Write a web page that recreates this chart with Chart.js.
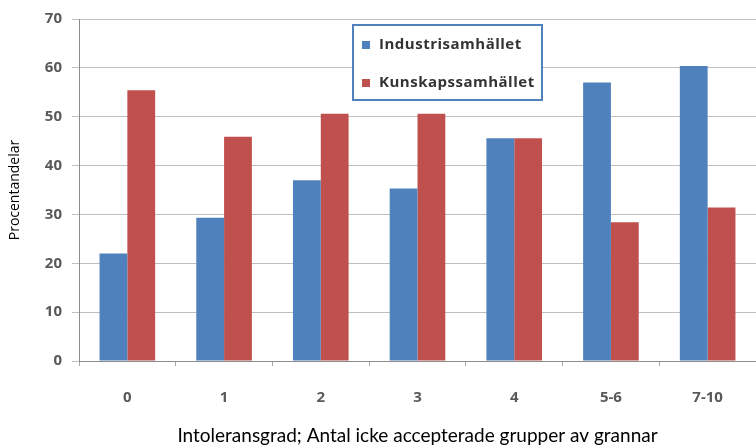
<!DOCTYPE html>
<html>
<head>
<meta charset="utf-8">
<script src="https://cdn.jsdelivr.net/npm/chart.js@4"></script>
<style>
  html, body { margin: 0; padding: 0; background: #ffffff; }
  #wrap { width: 756px; height: 445px; position: relative; }
</style>
</head>
<body>
<div id="wrap"><canvas id="c" width="756" height="445"></canvas></div>
<script>
const categories = ["0", "1", "2", "3", "4", "5-6", "7-10"];
const industri = [22, 29.3, 37, 35.3, 45.6, 57, 60.4];
const kunskap = [55.4, 45.9, 50.6, 50.6, 45.6, 28.4, 31.4];
const seriesNames = ["Industrisamhället", "Kunskapssamhället"];
const yTicks = [0, 10, 20, 30, 40, 50, 60, 70];
const xTitle = "Intoleransgrad; Antal icke accepterade grupper av grannar";
const yTitle = "Procentandelar";

const boxLegend = {
  id: 'boxLegend',
  afterDatasetsDraw(chart) {
    const ctx = chart.ctx;
    const x0 = 353, y0 = 25, w = 189, h = 75;
    ctx.save();
    ctx.fillStyle = '#ffffff';
    ctx.fillRect(x0, y0, w, h);
    ctx.strokeStyle = '#4f81bd';
    ctx.lineWidth = 2;
    ctx.strokeRect(x0, y0, w, h);
    const rows = [45, 83];
    chart.data.datasets.forEach((ds, i) => {
      const cy = rows[i];
      ctx.fillStyle = ds.backgroundColor;
      ctx.fillRect(362, cy - 4, 8, 8);
      ctx.fillStyle = '#333333';
      ctx.font = 'bold 15px "Open Sans"';
      try { ctx.letterSpacing = '0.5px'; } catch (e) {}
      ctx.textBaseline = 'middle';
      ctx.textAlign = 'left';
      ctx.fillText(ds.label, 379, cy);
    });
    ctx.restore();
  }
};

new Chart(document.getElementById('c'), {
  type: 'bar',
  data: {
    labels: categories,
    datasets: [
      { label: seriesNames[0], data: industri, backgroundColor: '#4f81bd' },
      { label: seriesNames[1], data: kunskap, backgroundColor: '#c0504d' }
    ]
  },
  options: {
    responsive: false,
    animation: false,
    devicePixelRatio: 1,
    layout: { padding: { top: 19, right: 0, left: 0, bottom: 0 } },
    datasets: { bar: { categoryPercentage: 0.575, barPercentage: 1.0 } },
    plugins: { legend: { display: false }, tooltip: { enabled: false } },
    scales: {
      x: {
        afterFit(s) { s.height = 84; },
        grid: { offset: true, drawOnChartArea: false, tickLength: 5, color: '#a6a6a6' },
        border: { color: '#8c8c8c', width: 1 },
        ticks: { color: '#595959', font: { family: 'Open Sans', size: 15, weight: 'bold' }, padding: 23 },
        title: { display: true, text: xTitle, color: '#000000', font: { family: 'Lato', size: 19 }, padding: { top: 0, bottom: -2 } }
      },
      y: {
        min: 0, max: 70,
        afterFit(s) { s.width = 79; },
        afterBuildTicks(s) { s.ticks = yTicks.map(v => ({ value: v })); },
        grid: { color: '#bfbfbf', tickLength: 7 },
        border: { color: '#8c8c8c', width: 1 },
        ticks: { color: '#595959', font: { family: 'Open Sans', size: 15, weight: 'bold' }, padding: 10 },
        title: { display: true, text: yTitle, color: '#000000', font: { family: 'Open Sans', size: 14 }, padding: { top: 7, bottom: 0 } }
      }
    }
  },
  plugins: [boxLegend]
});
</script>
</body>
</html>
